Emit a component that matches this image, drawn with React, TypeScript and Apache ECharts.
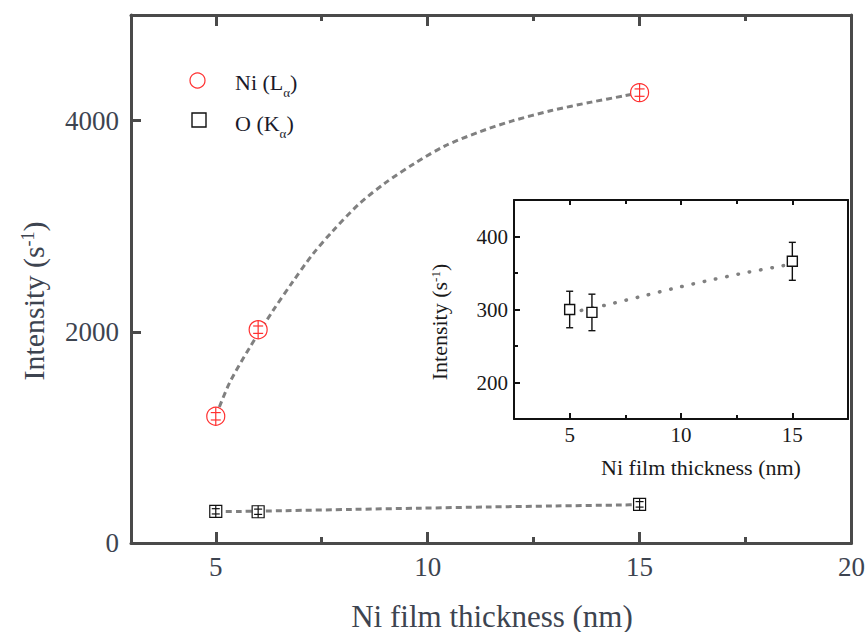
import React, { useEffect, useRef } from "react";
import * as echarts from "echarts";

// ---- data ----
const thickness = [5, 6, 15];
const niIntensity = [1200, 2020, 4265];
const niError = [35, 35, 35];
const oIntensity = [300, 296, 366];
const oError = [25, 25, 26];

// dashed fit curve (Ni) read along the dashes
const niFitX = [5, 5.33, 5.8, 6.35, 6.81, 7.28, 7.75, 8.38, 9.0, 9.71, 10.41, 11.2, 11.98, 12.92, 13.86, 14.64, 15];
const niFitY = [1200, 1520, 1850, 2200, 2470, 2730, 2950, 3210, 3410, 3600, 3760, 3890, 3995, 4095, 4175, 4235, 4265];
// fit curve (O)
const oFitX = [5, 5.57, 6.61, 8.23, 9.83, 11.43, 13.0, 14.58, 15];
const oFitY = [297, 299, 306, 318, 330, 341, 351, 360, 363];

// ---- ticks ----
const mainXLabels = [5, 10, 15, 20];
const mainXMajorTicks = [5, 10, 15];
const mainXMinorTicks = [7.5, 12.5, 17.5];
const mainYLabels = [0, 2000, 4000];
const insetXLabels = [5, 10, 15];
const insetXMinorTicks = [7.5, 12.5];
const insetYLabels = [200, 300, 400];
const insetYMinorTicks = [250, 350];

const SERIF = "Liberation Serif";
const MAIN_TXT = "#3d4450";
const MAIN_AX = "#4a4a4a";
const INSET_AX = "#111111";
const INSET_TXT = "#1a1a1a";
const FIT = "#808080";
const RED = "#ff3030";

const zip3 = (a: number[], b: number[], c: number[]) => a.map((v, i) => [v, b[i], c[i]]);
const zip2 = (a: number[], b: number[]) => a.map((v, i) => [v, b[i]]);
const only = (list: number[]) => (v: number) => (list.some((w) => Math.abs(w - v) < 1e-6) ? String(v) : "");

const makeMarker =
  (kind: "circle" | "square", color: string, size: number, lw: number, capHalf: number, linesOnTop: boolean) =>
  (_params: any, api: any) => {
    const x = api.value(0);
    const y = api.value(1);
    const e = api.value(2);
    const c = api.coord([x, y]);
    const t = api.coord([x, y + e]);
    const b = api.coord([x, y - e]);
    const h = size / 2;
    const marker =
      kind === "circle"
        ? { type: "circle", shape: { cx: c[0], cy: c[1], r: h }, style: { fill: "#fff", stroke: color, lineWidth: lw } }
        : { type: "rect", shape: { x: c[0] - h, y: c[1] - h, width: size, height: size }, style: { fill: "#fff", stroke: color, lineWidth: lw } };
    const vTop = linesOnTop ? c[1] - h : t[1];
    const vBot = linesOnTop ? c[1] + h : b[1];
    const lines = [
      { type: "line", shape: { x1: c[0], y1: vTop, x2: c[0], y2: vBot }, style: { stroke: color, lineWidth: lw } },
      { type: "line", shape: { x1: c[0] - capHalf, y1: t[1], x2: c[0] + capHalf, y2: t[1] }, style: { stroke: color, lineWidth: lw } },
      { type: "line", shape: { x1: c[0] - capHalf, y1: b[1], x2: c[0] + capHalf, y2: b[1] }, style: { stroke: color, lineWidth: lw } },
    ];
    return { type: "group", children: linesOnTop ? [marker, ...lines] : [...lines, marker] };
  };

export default function App() {
  const ref = useRef<HTMLDivElement>(null);
  useEffect(() => {
    if (!ref.current) return;
    const chart = echarts.init(ref.current, undefined, { renderer: "svg" });

    const hiddenLabel = { show: false };
    const noSplit = { show: false };

    const option: any = {
      animation: false,
      backgroundColor: "#ffffff",
      textStyle: { fontFamily: SERIF },
      grid: [
        { left: 131, right: 15, top: 15, bottom: 89 },
        { left: 514, right: 20, top: 200, bottom: 213 },
      ],
      xAxis: [
        {
          gridIndex: 0, type: "value", min: 3, max: 20, minInterval: 5, maxInterval: 5, position: "bottom",
          axisLine: { show: true, onZero: false, lineStyle: { color: MAIN_AX, width: 3 } },
          axisTick: { show: true, inside: true, length: 11, customValues: mainXMajorTicks, lineStyle: { color: MAIN_AX, width: 3 } },
          axisLabel: { show: true, formatter: only(mainXLabels), margin: 10, fontSize: 27, fontFamily: SERIF, color: MAIN_TXT, showMinLabel: true, showMaxLabel: true },
          splitLine: noSplit,
        },
        {
          gridIndex: 0, type: "value", min: 3, max: 20, position: "bottom",
          axisLine: { show: false, onZero: false },
          axisTick: { show: true, inside: true, length: 6, customValues: mainXMinorTicks, lineStyle: { color: MAIN_AX, width: 3 } },
          axisLabel: hiddenLabel, splitLine: noSplit,
        },
        {
          gridIndex: 0, type: "value", min: 3, max: 20, position: "top",
          axisLine: { show: true, onZero: false, lineStyle: { color: MAIN_AX, width: 3 } },
          axisTick: { show: true, inside: true, length: 11, customValues: mainXMajorTicks, lineStyle: { color: MAIN_AX, width: 3 } },
          axisLabel: hiddenLabel, splitLine: noSplit,
        },
        {
          gridIndex: 0, type: "value", min: 3, max: 20, position: "top",
          axisLine: { show: false, onZero: false },
          axisTick: { show: true, inside: true, length: 6, customValues: mainXMinorTicks, lineStyle: { color: MAIN_AX, width: 3 } },
          axisLabel: hiddenLabel, splitLine: noSplit,
        },
        {
          gridIndex: 1, type: "value", min: 2.5, max: 17.5, minInterval: 5, maxInterval: 5, position: "bottom",
          axisLine: { show: true, onZero: false, lineStyle: { color: INSET_AX, width: 2 } },
          axisTick: { show: true, inside: true, length: 6, customValues: insetXLabels, lineStyle: { color: INSET_AX, width: 2 } },
          axisLabel: { show: true, formatter: only(insetXLabels), margin: 5, fontSize: 21, fontFamily: SERIF, color: INSET_TXT },
          splitLine: noSplit,
        },
        {
          gridIndex: 1, type: "value", min: 2.5, max: 17.5, position: "bottom",
          axisLine: { show: false, onZero: false },
          axisTick: { show: true, inside: true, length: 4, customValues: insetXMinorTicks, lineStyle: { color: INSET_AX, width: 2 } },
          axisLabel: hiddenLabel, splitLine: noSplit,
        },
        {
          gridIndex: 1, type: "value", min: 2.5, max: 17.5, position: "top",
          axisLine: { show: true, onZero: false, lineStyle: { color: INSET_AX, width: 2 } },
          axisTick: { show: true, inside: true, length: 5, customValues: insetXLabels, lineStyle: { color: INSET_AX, width: 2 } },
          axisLabel: hiddenLabel, splitLine: noSplit,
        },
        {
          gridIndex: 1, type: "value", min: 2.5, max: 17.5, position: "top",
          axisLine: { show: false, onZero: false },
          axisTick: { show: true, inside: true, length: 4, customValues: insetXMinorTicks, lineStyle: { color: INSET_AX, width: 2 } },
          axisLabel: hiddenLabel, splitLine: noSplit,
        },
      ],
      yAxis: [
        {
          gridIndex: 0, type: "value", min: 0, max: 5000, interval: 1000, position: "left",
          axisLine: { show: true, onZero: false, lineStyle: { color: MAIN_AX, width: 3 } },
          axisTick: { show: true, inside: true, length: 10, customValues: mainYLabels, lineStyle: { color: MAIN_AX, width: 3 } },
          axisLabel: { show: true, formatter: only(mainYLabels), margin: 12, fontSize: 27, fontFamily: SERIF, color: MAIN_TXT },
          splitLine: noSplit,
        },
        {
          gridIndex: 0, type: "value", min: 0, max: 5000, position: "right",
          axisLine: { show: true, onZero: false, lineStyle: { color: MAIN_AX, width: 3 } },
          axisTick: { show: false }, axisLabel: hiddenLabel, splitLine: noSplit,
        },
        {
          gridIndex: 1, type: "value", min: 150, max: 450, minInterval: 100, maxInterval: 100, position: "left",
          axisLine: { show: true, onZero: false, lineStyle: { color: INSET_AX, width: 2 } },
          axisTick: { show: true, inside: true, length: 6, customValues: insetYLabels, lineStyle: { color: INSET_AX, width: 2 } },
          axisLabel: { show: true, formatter: only(insetYLabels), margin: 6, fontSize: 21, fontFamily: SERIF, color: INSET_TXT },
          splitLine: noSplit,
        },
        {
          gridIndex: 1, type: "value", min: 150, max: 450, position: "left",
          axisLine: { show: false, onZero: false },
          axisTick: { show: true, inside: true, length: 4, customValues: insetYMinorTicks, lineStyle: { color: INSET_AX, width: 2 } },
          axisLabel: hiddenLabel, splitLine: noSplit,
        },
        {
          gridIndex: 1, type: "value", min: 150, max: 450, position: "right",
          axisLine: { show: true, onZero: false, lineStyle: { color: INSET_AX, width: 2 } },
          axisTick: { show: false }, axisLabel: hiddenLabel, splitLine: noSplit,
        },
      ],
      series: [
        {
          name: "Ni fit", type: "line", xAxisIndex: 0, yAxisIndex: 0,
          data: zip2(niFitX, niFitY), showSymbol: false, smooth: 0.3, z: 2,
          lineStyle: { color: FIT, width: 3, type: [6, 4] },
        },
        {
          name: "O fit", type: "line", xAxisIndex: 0, yAxisIndex: 0,
          data: zip2(oFitX, oFitY), showSymbol: false, smooth: 0.3, z: 2,
          lineStyle: { color: FIT, width: 3, type: [6, 4] },
        },
        {
          name: "Ni (Lα)", type: "custom", xAxisIndex: 0, yAxisIndex: 0, z: 5,
          encode: { x: 0, y: 1 }, clip: false,
          data: zip3(thickness, niIntensity, niError),
          renderItem: makeMarker("circle", RED, 18, 1.2, 5, true),
        },
        {
          name: "O (Kα)", type: "custom", xAxisIndex: 0, yAxisIndex: 0, z: 5,
          encode: { x: 0, y: 1 }, clip: false,
          data: zip3(thickness, oIntensity, oError),
          renderItem: makeMarker("square", "#111", 12, 1.2, 4, true),
        },
        {
          name: "O fit inset", type: "line", xAxisIndex: 4, yAxisIndex: 2,
          data: zip2(oFitX, oFitY), showSymbol: false, smooth: 0.3, z: 2,
          lineStyle: { color: FIT, width: 3.5, type: [0.5, 11], cap: "round" },
        },
        {
          name: "O inset", type: "custom", xAxisIndex: 4, yAxisIndex: 2, z: 5,
          encode: { x: 0, y: 1 }, clip: false,
          data: zip3(thickness, oIntensity, oError),
          renderItem: makeMarker("square", "#111", 10, 1.4, 3.5, false),
        },
      ],
      graphic: [
        // legend
        { type: "circle", shape: { cx: 197.5, cy: 80.5, r: 7.5 }, style: { fill: "none", stroke: RED, lineWidth: 1.2 }, z: 10 },
        { type: "rect", shape: { x: 192, y: 113, width: 14, height: 14 }, style: { fill: "none", stroke: "#111", lineWidth: 1.4 }, z: 10 },
        {
          type: "text", x: 235, y: 82, z: 10,
          style: {
            text: "{a|Ni (L}{s|α}{a|)}", align: "left", verticalAlign: "middle",
            rich: {
              a: { fontSize: 22, fontFamily: SERIF, fill: "#1a1a2a", lineHeight: 34 },
              s: { fontSize: 13, fontFamily: SERIF, fill: "#1a1a2a", lineHeight: 13, verticalAlign: "bottom" },
            },
          },
        },
        {
          type: "text", x: 235, y: 123, z: 10,
          style: {
            text: "{a|O (K}{s|α}{a|)}", align: "left", verticalAlign: "middle",
            rich: {
              a: { fontSize: 22, fontFamily: SERIF, fill: "#1a1a2a", lineHeight: 34 },
              s: { fontSize: 13, fontFamily: SERIF, fill: "#1a1a2a", lineHeight: 13, verticalAlign: "bottom" },
            },
          },
        },
        // main axis titles
        {
          type: "text", x: 492, y: 616, z: 10,
          style: { text: "Ni film thickness (nm)", fontSize: 31, fontFamily: SERIF, fill: MAIN_TXT, align: "center", verticalAlign: "middle" },
        },
        {
          type: "text", x: 33, y: 301, rotation: Math.PI / 2, z: 10,
          style: {
            text: "{a|Intensity (s}{sup|-1}{a|)}", align: "center", verticalAlign: "middle",
            rich: {
              a: { fontSize: 30, fontFamily: SERIF, fill: MAIN_TXT, lineHeight: 28 },
              sup: { fontSize: 18, fontFamily: SERIF, fill: MAIN_TXT, lineHeight: 16, verticalAlign: "top" },
            },
          },
        },
        // inset axis titles
        {
          type: "text", x: 701, y: 467, z: 10,
          style: { text: "Ni film thickness (nm)", fontSize: 22, fontFamily: SERIF, fill: INSET_TXT, align: "center", verticalAlign: "middle" },
        },
        {
          type: "text", x: 439, y: 322, rotation: Math.PI / 2, z: 10,
          style: {
            text: "{a|Intensity (s}{sup|-1}{a|)}", align: "center", verticalAlign: "middle",
            rich: {
              a: { fontSize: 22, fontFamily: SERIF, fill: INSET_TXT, lineHeight: 20 },
              sup: { fontSize: 13, fontFamily: SERIF, fill: INSET_TXT, lineHeight: 12, verticalAlign: "top" },
            },
          },
        },
      ],
    };

    chart.setOption(option);
    return () => chart.dispose();
  }, []);

  return <div ref={ref} style={{ position: "fixed", left: 0, top: 0, width: 868, height: 632, background: "#fff" }} />;
}
